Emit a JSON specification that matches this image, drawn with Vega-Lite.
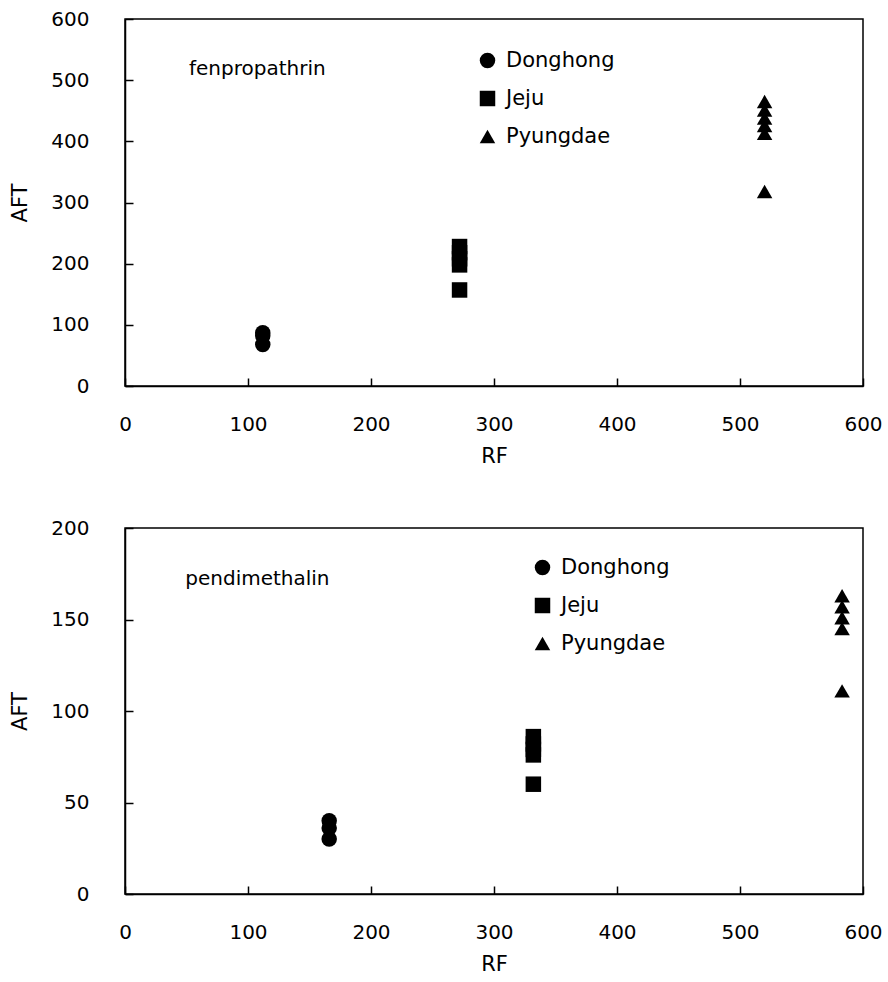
{
  "$schema": "https://vega.github.io/schema/vega-lite/v6.json",
  "background": "white",
  "padding": {"left": 9, "top": 8, "right": 20, "bottom": 5},
  "spacing": 50,
  "resolve": {"scale": {"shape": "independent", "size": "independent"}, "legend": {"shape": "independent", "size": "independent"}},
  "config": {
    "font": "DejaVu Sans",
    "view": {"stroke": "black", "strokeWidth": 1.5},
    "axis": {
      "domainColor": "black", "domainWidth": 1.5,
      "tickColor": "black", "tickSize": -8, "tickWidth": 1.5,
      "grid": false, "labelFlush": false,
      "labelFont": "DejaVu Sans", "labelFontSize": 20, "labelColor": "black",
      "titleFont": "DejaVu Sans", "titleFontSize": 21, "titleFontWeight": "normal", "titleColor": "black"
    },
    "axisX": {"labelPadding": 36, "titlePadding": 11},
    "axisY": {"labelPadding": 44, "titlePadding": 20},
    "legend": {
      "padding": 0, "labelFont": "DejaVu Sans", "labelFontSize": 21, "labelColor": "black",
      "symbolFillColor": "black", "symbolStrokeColor": "black", "symbolSize": 240,
      "symbolOpacity": 1, "rowPadding": 15, "labelOffset": 8
    }
  },
  "vconcat": [
    {
      "width": 738, "height": 367,
      "layer": [
        {
          "data": {"values": [
            {"site": "Donghong", "RF": 112, "AFT": 87},
            {"site": "Donghong", "RF": 112, "AFT": 82},
            {"site": "Donghong", "RF": 112, "AFT": 68},
            {"site": "Jeju", "RF": 272, "AFT": 228},
            {"site": "Jeju", "RF": 272, "AFT": 218},
            {"site": "Jeju", "RF": 272, "AFT": 208},
            {"site": "Jeju", "RF": 272, "AFT": 198},
            {"site": "Jeju", "RF": 272, "AFT": 157},
            {"site": "Pyungdae", "RF": 520, "AFT": 465},
            {"site": "Pyungdae", "RF": 520, "AFT": 451},
            {"site": "Pyungdae", "RF": 520, "AFT": 438},
            {"site": "Pyungdae", "RF": 520, "AFT": 426},
            {"site": "Pyungdae", "RF": 520, "AFT": 413},
            {"site": "Pyungdae", "RF": 520, "AFT": 318}
          ]},
          "mark": {"type": "point", "filled": true, "opacity": 1, "color": "black"},
          "encoding": {
            "x": {"field": "RF", "type": "quantitative", "scale": {"domain": [0, 600]},
                  "axis": {"values": [0, 100, 200, 300, 400, 500, 600], "title": "RF"}},
            "y": {"field": "AFT", "type": "quantitative", "scale": {"domain": [0, 600]},
                  "axis": {"values": [0, 100, 200, 300, 400, 500, 600], "title": "AFT"}},
            "size": {"field": "site", "type": "nominal", "scale": {"domain": ["Donghong", "Jeju", "Pyungdae"], "range": [240, 240, 340]},
                     "legend": {"title": null, "orient": "none", "legendX": 352, "legendY": 31}},
            "shape": {"field": "site", "type": "nominal",
                      "scale": {"domain": ["Donghong", "Jeju", "Pyungdae"], "range": ["circle", "square", "triangle-up"]},
                      "legend": {"title": null, "orient": "none", "legendX": 352, "legendY": 31}}
          }
        },
        {
          "data": {"values": [{"label": "fenpropathrin", "RF": 52, "AFT": 518}]},
          "mark": {"type": "text", "align": "left", "baseline": "middle", "fontSize": 20, "color": "black", "font": "DejaVu Sans"},
          "encoding": {
            "x": {"field": "RF", "type": "quantitative"},
            "y": {"field": "AFT", "type": "quantitative"},
            "text": {"field": "label"}
          }
        }
      ]
    },
    {
      "width": 738, "height": 366,
      "layer": [
        {
          "data": {"values": [
            {"site": "Donghong", "RF": 166, "AFT": 40},
            {"site": "Donghong", "RF": 166, "AFT": 36},
            {"site": "Donghong", "RF": 166, "AFT": 30},
            {"site": "Jeju", "RF": 332, "AFT": 86},
            {"site": "Jeju", "RF": 332, "AFT": 82},
            {"site": "Jeju", "RF": 332, "AFT": 79},
            {"site": "Jeju", "RF": 332, "AFT": 76},
            {"site": "Jeju", "RF": 332, "AFT": 60},
            {"site": "Pyungdae", "RF": 583, "AFT": 163},
            {"site": "Pyungdae", "RF": 583, "AFT": 157},
            {"site": "Pyungdae", "RF": 583, "AFT": 151},
            {"site": "Pyungdae", "RF": 583, "AFT": 145},
            {"site": "Pyungdae", "RF": 583, "AFT": 111}
          ]},
          "mark": {"type": "point", "filled": true, "opacity": 1, "color": "black"},
          "encoding": {
            "x": {"field": "RF", "type": "quantitative", "scale": {"domain": [0, 600]},
                  "axis": {"values": [0, 100, 200, 300, 400, 500, 600], "title": "RF"}},
            "y": {"field": "AFT", "type": "quantitative", "scale": {"domain": [0, 200]},
                  "axis": {"values": [0, 50, 100, 150, 200], "title": "AFT"}},
            "size": {"field": "site", "type": "nominal", "scale": {"domain": ["Donghong", "Jeju", "Pyungdae"], "range": [240, 240, 340]},
                     "legend": {"title": null, "orient": "none", "legendX": 407, "legendY": 29}},
            "shape": {"field": "site", "type": "nominal",
                      "scale": {"domain": ["Donghong", "Jeju", "Pyungdae"], "range": ["circle", "square", "triangle-up"]},
                      "legend": {"title": null, "orient": "none", "legendX": 407, "legendY": 29}}
          }
        },
        {
          "data": {"values": [{"label": "pendimethalin", "RF": 49, "AFT": 172}]},
          "mark": {"type": "text", "align": "left", "baseline": "middle", "fontSize": 20, "color": "black", "font": "DejaVu Sans"},
          "encoding": {
            "x": {"field": "RF", "type": "quantitative"},
            "y": {"field": "AFT", "type": "quantitative"},
            "text": {"field": "label"}
          }
        }
      ]
    }
  ]
}
